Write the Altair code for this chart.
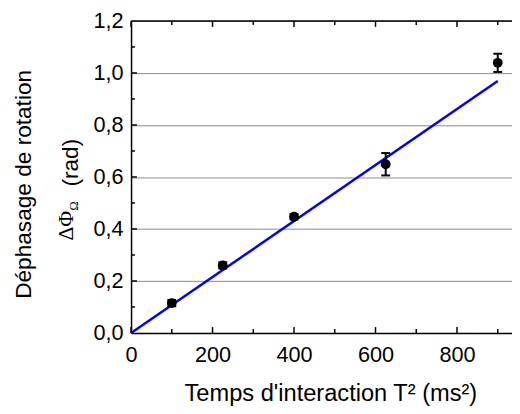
import altair as alt
import pandas as pd

# Data
t2 = [100, 225, 400, 625, 900]
phase = [0.115, 0.26, 0.447, 0.649, 1.039]
err = [0.012, 0.012, 0.010, 0.043, 0.035]
fit_t2 = [0, 900]
fit_phase = [0.0, 0.969]

x_major = [0, 200, 400, 600, 800]
x_minor = [100, 300, 500, 700, 900]
y_major = [0.0, 0.2, 0.4, 0.6, 0.8, 1.0, 1.2]
y_minor = [0.1, 0.3, 0.5, 0.7, 0.9, 1.1]

W, H = 387, 317
XMAX = 935
FONT = "Liberation Sans"
SERIF = "Liberation Serif"

pts = pd.DataFrame({"t2": t2, "phase": phase, "err": err})
pts["lo"] = pts["phase"] - pts["err"]
pts["hi"] = pts["phase"] + pts["err"]
fit = pd.DataFrame({"t2": fit_t2, "phase": fit_phase})
xmaj = pd.DataFrame({"v": x_major})
xmin = pd.DataFrame({"v": x_minor})
ymaj = pd.DataFrame({"v": y_major[1:-1]})
ymin = pd.DataFrame({"v": y_minor})
one = pd.DataFrame({"a": [0]})

xs = alt.Scale(domain=[0, XMAX], nice=False, zero=False)
ys = alt.Scale(domain=[0, 1.2], nice=False, zero=False)

xaxis = alt.Axis(values=x_major, ticks=False, tickSize=0, grid=False,
                 labelFontSize=22, labelFont=FONT, labelColor="black",
                 labelPadding=12, domainColor="black", domainWidth=1.5,
                 title=None, labelFlush=False)
yaxis = alt.Axis(values=y_major, ticks=False, tickSize=0, grid=True,
                 gridColor="#8a8a8a", gridWidth=1,
                 labelFontSize=22, labelFont=FONT, labelColor="black",
                 labelPadding=8, domainColor="black", domainWidth=1.5,
                 title=None, labelFlush=False,
                 labelExpr="replace(format(datum.value, '.1f'), '.', ',')")

base_axes = alt.Chart(fit).mark_line(opacity=0).encode(
    x=alt.X("t2:Q", scale=xs, axis=xaxis),
    y=alt.Y("phase:Q", scale=ys, axis=yaxis),
)

fit_line = alt.Chart(fit).mark_line(color="#0000ff", strokeWidth=2.5).encode(
    x=alt.X("t2:Q", scale=xs), y=alt.Y("phase:Q", scale=ys))

err_rule = alt.Chart(pts).mark_rule(color="black", strokeWidth=2).encode(
    x=alt.X("t2:Q", scale=xs), y=alt.Y("lo:Q", scale=ys), y2="hi:Q")
cap_hi = alt.Chart(pts).mark_rule(color="black", strokeWidth=2, xOffset=-4.5, x2Offset=4.5).encode(
    x=alt.X("t2:Q", scale=xs), x2="t2:Q", y=alt.Y("hi:Q", scale=ys))
cap_lo = alt.Chart(pts).mark_rule(color="black", strokeWidth=2, xOffset=-4.5, x2Offset=4.5).encode(
    x=alt.X("t2:Q", scale=xs), x2="t2:Q", y=alt.Y("lo:Q", scale=ys))
points = alt.Chart(pts).mark_circle(color="black", opacity=1, size=100).encode(
    x=alt.X("t2:Q", scale=xs), y=alt.Y("phase:Q", scale=ys))

# frame top line
top_line = alt.Chart(one).mark_rule(color="black", strokeWidth=1.5).encode(
    x=alt.value(0), x2=alt.value(W), y=alt.value(0))

# inward ticks
def xticks(df, y0, y1):
    return alt.Chart(df).mark_rule(color="black", strokeWidth=1.5).encode(
        x=alt.X("v:Q", scale=xs), y=alt.value(y0), y2=alt.value(y1))

def yticks(df, length):
    return alt.Chart(df).mark_rule(color="black", strokeWidth=1.5).encode(
        y=alt.Y("v:Q", scale=ys), x=alt.value(0), x2=alt.value(length))

ticks = [xticks(xmaj, H, H - 6), xticks(xmin, H, H - 4),
         xticks(xmaj, 0, 6), xticks(xmin, 0, 4),
         yticks(ymaj, 6), yticks(ymin, 4)]

def txt(text, x, y, size, font=FONT, angle=0, baseline="alphabetic"):
    return alt.Chart(one).mark_text(
        font=font, fontSize=size, angle=angle, align="center",
        baseline=baseline, color="black").encode(
        x=alt.value(x), y=alt.value(y), text=alt.value(text))

titles = [
    txt("Temps d'interaction T² (ms²)", 203, 386, 24),
    txt("Déphasage de rotation", -101.5, 166, 23, angle=270),
    txt("(rad)", -54, 144, 23, angle=270),
    txt("ΔΦ", -59, 208, 22, font=SERIF, angle=270),
    txt("Ω", -54, 188, 13, font=SERIF, angle=270),
]

chart = alt.layer(base_axes, fit_line, err_rule, cap_hi, cap_lo, points,
                  top_line, *ticks, *titles).properties(
    width=W, height=H,
    autosize=alt.AutoSizeParams(type="none"),
    padding={"left": 125, "top": 10, "right": 0, "bottom": 73},
).configure_view(stroke=None).configure(background="white")

chart.save("out.html", embed_options={"renderer": "svg", "actions": False})
